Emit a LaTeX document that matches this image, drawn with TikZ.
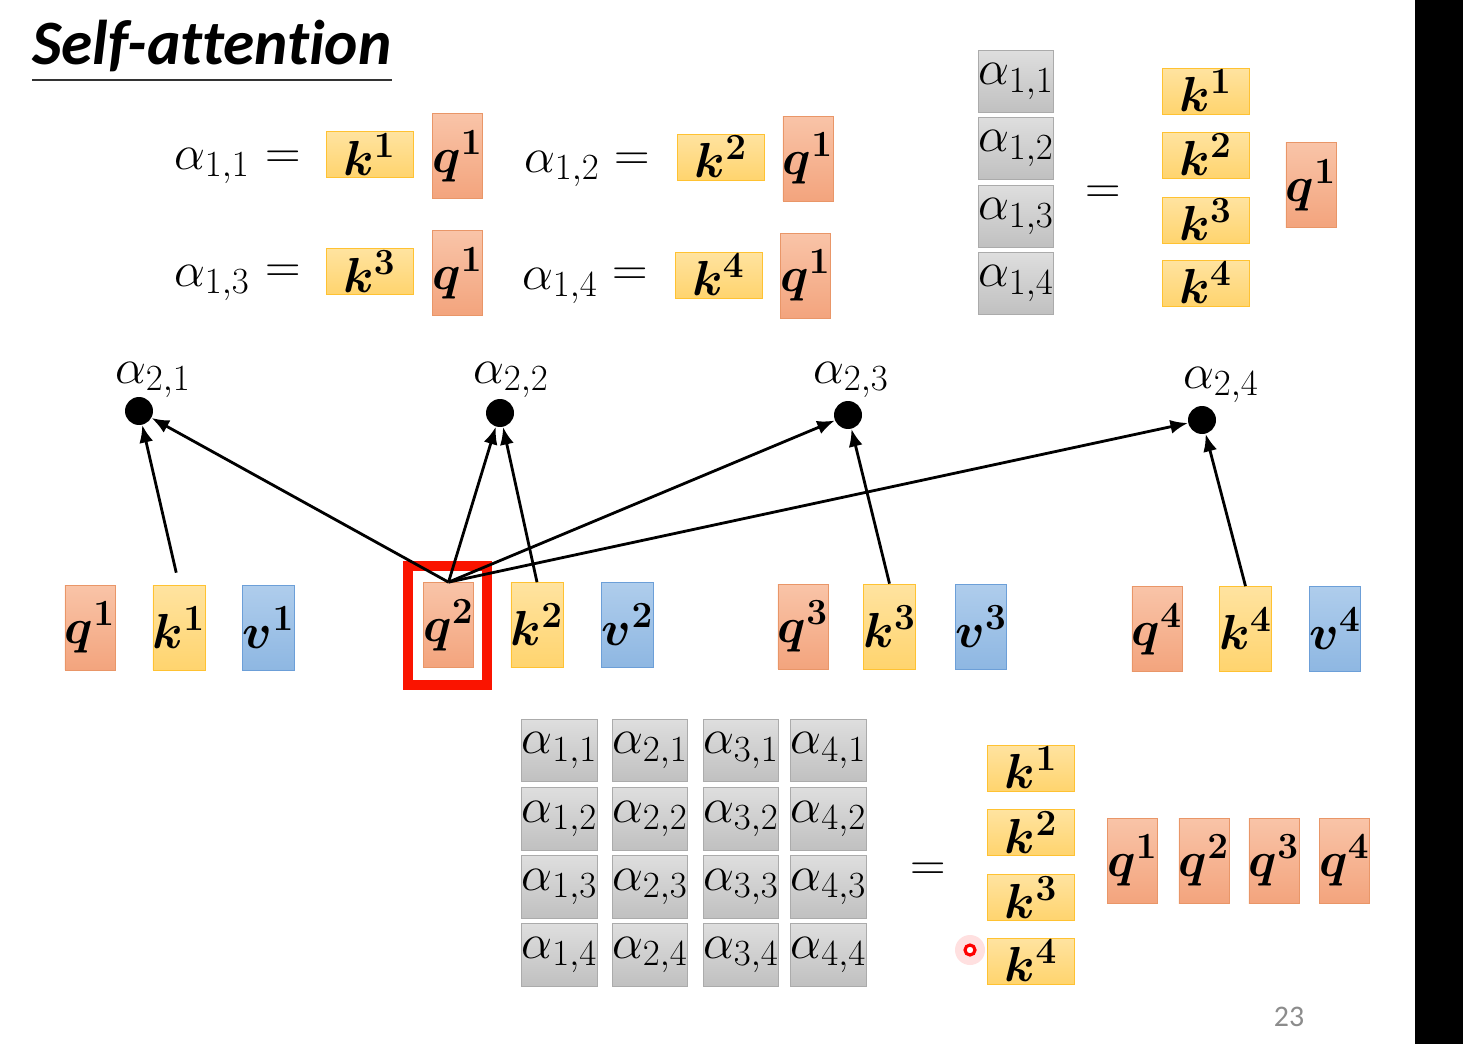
\RequirePackage{fix-cm}
\documentclass[tikz,border=0pt]{standalone}
\usepackage{amsmath,amssymb}
\usepackage{fontspec}
\newfontfamily\slidefont[Ligatures=NoCommon]{Carlito}
\usetikzlibrary{arrows.meta}
\DeclareMathSizes{28}{28}{21}{15}
\definecolor{qtop}{HTML}{F9C4A8}
\definecolor{qbot}{HTML}{F3A47D}
\definecolor{qline}{HTML}{E99668}
\definecolor{ktop}{HTML}{FFE3A0}
\definecolor{kbot}{HTML}{FFD46E}
\definecolor{kline}{HTML}{FFC232}
\definecolor{vtop}{HTML}{AFCDEC}
\definecolor{vbot}{HTML}{8EB7E2}
\definecolor{vline}{HTML}{6C9FD8}
\definecolor{gtop}{HTML}{DEDEDE}
\definecolor{gbot}{HTML}{C0C0C0}
\definecolor{gline}{HTML}{ABABAB}
\definecolor{selred}{HTML}{FA1400}

\begin{document}
\begin{tikzpicture}[x=0.02cm, y=-0.02cm,
	every node/.style={inner sep=0pt, font=\fontsize{28}{32}\selectfont},
	qcell/.style={draw=qline, top color=qtop, bottom color=qbot},
	kcell/.style={draw=kline, top color=ktop, bottom color=kbot},
	vcell/.style={draw=vline, top color=vtop, bottom color=vbot},
	acell/.style={draw=gline, top color=gtop, bottom color=gbot, minimum width=1.48cm, minimum height=1.25cm},
	tall/.style={minimum width=0.94cm, minimum height=1.7cm},
	wide/.style={minimum width=1.74cm, minimum height=0.92cm},
	dot/.style={circle, fill=black, minimum size=0.56cm},
	arr/.style={-{Latex[length=10pt,width=8pt]}, line width=1.6pt}]
	\fill[white] (0,0) rectangle (1463,1044);
	\useasboundingbox (0,0) rectangle (1463,1044);
	\fill[black] (1415,0) rectangle (1463,1044);

	\node[anchor=base west, font={\slidefont\fontsize{36}{40}\selectfont\bfseries\itshape}] (title) at (32,65) {Self-attention};
	\draw[line width=1.1pt, black!80] ([yshift=-8.5pt]title.base west) -- ([yshift=-8.5pt]title.base east);

	\node (ta11) at (212,166) {$\alpha_{1,1}$};
	\node (teq1) at (283,160) {$=$};
	\node[kcell, wide] (tk1) at (369.5,154.5) {$\boldsymbol{k^1}$};
	\node[qcell, tall] (tq1) at (457.5,156) {$\boldsymbol{q^1}$};
	\node (ta12) at (562,169) {$\alpha_{1,2}$};
	\node (teq2) at (632,162) {$=$};
	\node[kcell, wide] (tk2) at (721,157) {$\boldsymbol{k^2}$};
	\node[qcell, tall] (tq2) at (808,158.5) {$\boldsymbol{q^1}$};
	\node (ta13) at (212,283) {$\alpha_{1,3}$};
	\node (teq3) at (283,274) {$=$};
	\node[kcell, wide] (tk3) at (369.5,271.5) {$\boldsymbol{k^3}$};
	\node[qcell, tall] (tq3) at (457.5,273) {$\boldsymbol{q^1}$};
	\node (ta14) at (560,286) {$\alpha_{1,4}$};
	\node (teq4) at (630,277) {$=$};
	\node[kcell, wide] (tk4) at (718.5,275) {$\boldsymbol{k^4}$};
	\node[qcell, tall] (tq4) at (805.5,275.5) {$\boldsymbol{q^1}$};

	\node[acell] (ra1) at (1016,81.5) {$\alpha_{1,1}$};
	\node[acell] (ra2) at (1016,148.5) {$\alpha_{1,2}$};
	\node[acell] (ra3) at (1016,216.5) {$\alpha_{1,3}$};
	\node[acell] (ra4) at (1016,283.5) {$\alpha_{1,4}$};
	\node (req) at (1103,195) {$=$};
	\node[kcell, wide] (rk1) at (1205.5,91) {$\boldsymbol{k^1}$};
	\node[kcell, wide] (rk2) at (1205.5,155) {$\boldsymbol{k^2}$};
	\node[kcell, wide] (rk3) at (1205.5,220) {$\boldsymbol{k^3}$};
	\node[kcell, wide] (rk4) at (1205.5,283) {$\boldsymbol{k^4}$};
	\node[qcell, tall] (rq1) at (1311,185) {$\boldsymbol{q^1}$};

	\node[dot] (d21) at (139,411) {};
	\node[dot] (d22) at (500,413) {};
	\node[dot] (d23) at (848,415) {};
	\node[dot] (d24) at (1202,420) {};
	\node (l21) at (153,380) {$\alpha_{2,1}$};
	\node (l22) at (511,380) {$\alpha_{2,2}$};
	\node (l23) at (851,380) {$\alpha_{2,3}$};
	\node (l24) at (1221,385) {$\alpha_{2,4}$};

	\node[qcell, tall] (q1) at (90,627.5) {$\boldsymbol{q^1}$};
	\node[kcell, tall] (k1) at (179,627.5) {$\boldsymbol{k^1}$};
	\node[vcell, tall] (v1) at (268.5,627.5) {$\boldsymbol{v^1}$};
	\node[qcell, tall] (q2) at (448.5,625) {$\boldsymbol{q^2}$};
	\node[kcell, tall] (k2) at (537,625) {$\boldsymbol{k^2}$};
	\node[vcell, tall] (v2) at (627.5,625) {$\boldsymbol{v^2}$};
	\node[qcell, tall] (q3) at (803,626.5) {$\boldsymbol{q^3}$};
	\node[kcell, tall] (k3) at (889.5,626.5) {$\boldsymbol{k^3}$};
	\node[vcell, tall] (v3) at (981,626.5) {$\boldsymbol{v^3}$};
	\node[qcell, tall] (q4) at (1157,629) {$\boldsymbol{q^4}$};
	\node[kcell, tall] (k4) at (1245.5,629) {$\boldsymbol{k^4}$};
	\node[vcell, tall] (v4) at (1335,629) {$\boldsymbol{v^4}$};
	\node[draw=selred, line width=5.6pt, minimum width=1.58cm, minimum height=2.38cm] (sel) at (447.5,625.5) {};

	\draw[arr, shorten <=7pt] (k1.north) -- (d21);
	\draw[arr] (q2.north) -- (d21);
	\draw[arr] (q2.north) -- (d22);
	\draw[arr] (k2.north) -- (d22);
	\draw[arr] (q2.north) -- (d23);
	\draw[arr] (k3.north) -- (d23);
	\draw[arr] (q2.north) -- (d24);
	\draw[arr] (k4.north) -- (d24);

	\node[acell] (m11) at (559.5,750.5) {$\alpha_{1,1}$};
	\node[acell] (m21) at (650,750.5) {$\alpha_{2,1}$};
	\node[acell] (m31) at (741,750.5) {$\alpha_{3,1}$};
	\node[acell] (m41) at (828.5,750.5) {$\alpha_{4,1}$};
	\node[acell] (m12) at (559.5,819) {$\alpha_{1,2}$};
	\node[acell] (m22) at (650,819) {$\alpha_{2,2}$};
	\node[acell] (m32) at (741,819) {$\alpha_{3,2}$};
	\node[acell] (m42) at (828.5,819) {$\alpha_{4,2}$};
	\node[acell] (m13) at (559.5,887) {$\alpha_{1,3}$};
	\node[acell] (m23) at (650,887) {$\alpha_{2,3}$};
	\node[acell] (m33) at (741,887) {$\alpha_{3,3}$};
	\node[acell] (m43) at (828.5,887) {$\alpha_{4,3}$};
	\node[acell] (m14) at (559.5,955) {$\alpha_{1,4}$};
	\node[acell] (m24) at (650,955) {$\alpha_{2,4}$};
	\node[acell] (m34) at (741,955) {$\alpha_{3,4}$};
	\node[acell] (m44) at (828.5,955) {$\alpha_{4,4}$};
	\node (meq) at (928,872) {$=$};
	\node[kcell, wide] (mk1) at (1031,768) {$\boldsymbol{k^1}$};
	\node[kcell, wide] (mk2) at (1031,832.5) {$\boldsymbol{k^2}$};
	\node[kcell, wide] (mk3) at (1031,897.5) {$\boldsymbol{k^3}$};
	\node[kcell, wide] (mk4) at (1031,961) {$\boldsymbol{k^4}$};
	\node[qcell, tall] (mq1) at (1132.5,860.5) {$\boldsymbol{q^1}$};
	\node[qcell, tall] (mq2) at (1204,860.5) {$\boldsymbol{q^2}$};
	\node[qcell, tall] (mq3) at (1274,860.5) {$\boldsymbol{q^3}$};
	\node[qcell, tall] (mq4) at (1344.5,860.5) {$\boldsymbol{q^4}$};

	\coordinate (ptr) at (970,950);
	\fill[red!12] (ptr) circle (0.3cm);
	\draw[red, line width=1.8pt, fill=white] (ptr) circle (0.1cm);
	\node[font={\slidefont\fontsize{17}{20}\selectfont}, text=black!45] (pg) at (1289,1017) {23};
\end{tikzpicture}
\end{document}
